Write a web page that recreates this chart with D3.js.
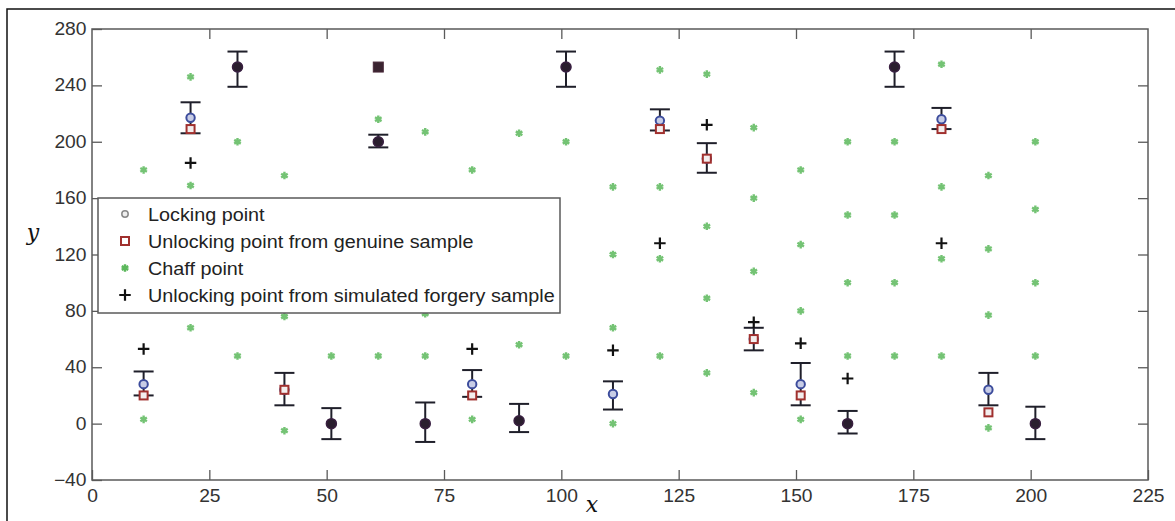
<!DOCTYPE html>
<html><head><meta charset="utf-8">
<script src="https://cdn.jsdelivr.net/npm/d3@7"></script>
<style>
html,body{margin:0;padding:0;background:#fff;}
svg{display:block;}
</style></head>
<body>
<svg id="chart" width="1175" height="521"></svg>
<script>
// ---- data ----
const xTicks = [0,25,50,75,100,125,150,175,200,225];
const yTicks = [-40,0,40,80,120,160,200,240,280];

const lockX   = [11,21,31,41,51,61,71,81,91,101,111,121,131,141,151,161,171,181,191,201];
const lockY   = [28,217,253,24,0,200,0,28,2,253,21,215,188,60,28,0,253,216,24,0];
const errLow  = [20,206,239,13,-11,196,-13,19,-6,239,10,208,178,52,13,-7,239,209,13,-11];
const errHigh = [37,228,264,36,11,205,15,38,14,264,30,223,199,68,43,9,264,224,36,12];

const genuineX = [11,21,41,81,121,131,141,151,181,191];
const genuineY = [20,209,24,20,209,188,60,20,209,8];

// genuine unlocking points coinciding with locking points (drawn as dark overlap)
const overlapX = [31,51,61,71,91,101,161,171,201];
const overlapY = [253,0,200,0,2,253,0,253,0];
// genuine unlocking point landing on a chaff point
const genuineChaffX = [61];
const genuineChaffY = [253];

const chaffX = [11,11, 21,21,21, 31,31, 41,41,41, 51, 61,61, 71,71,71, 81,81, 91,91, 101,101,
  111,111,111,111, 121,121,121,121, 131,131,131,131, 141,141,141,141, 151,151,151,151,
  161,161,161,161, 171,171,171,171, 181,181,181,181, 191,191,191,191, 201,201,201,201];
const chaffY = [180,3, 246,169,68, 200,48, 176,-5,76, 48, 216,48, 207,48,78, 180,3, 206,56, 200,48,
  168,120,68,0, 251,168,117,48, 248,140,89,36, 210,160,108,22, 180,127,80,3,
  200,148,100,48, 200,148,100,48, 255,168,117,48, 176,124,77,-3, 200,152,100,48];

const forgX = [11,21,81,111,121,131,141,151,161,181];
const forgY = [53,185,53,52,128,212,72,57,32,128];

const legendLabels = ["Locking point","Unlocking point from genuine sample","Chaff point","Unlocking point from simulated forgery sample"];

// ---- layout ----
const svg = d3.select("#chart");
const L = 92, R = 1148, T = 29, B = 480;
const x = d3.scaleLinear().domain([0,225]).range([L,R]);
const y = d3.scaleLinear().domain([-40,280]).range([B,T]);

const frameCol = "#5a5a5a";
const textCol = "#333";
const font = "'Liberation Sans', Arial, sans-serif";

// outer frame
svg.append("rect").attr("x",7).attr("y",9).attr("width",1300).attr("height",700)
  .attr("fill","none").attr("stroke","#111").attr("stroke-width",1.5);

// axes
function styleAxis(g){
  g.select(".domain").remove();
  g.selectAll("line").attr("stroke",frameCol).attr("stroke-width",1.3);
  g.selectAll("text").attr("fill",textCol).attr("font-family",font).attr("font-size",17.5);
}
const xAxisB = d3.axisBottom(x).tickValues(xTicks).tickSizeInner(-10).tickSizeOuter(0).tickPadding(10);
svg.append("g").attr("transform",`translate(0,${B})`).call(xAxisB).call(styleAxis)
  .selectAll("text").attr("transform","scale(1.1,1)");
svg.append("g").attr("transform",`translate(0,${T})`)
  .call(d3.axisTop(x).tickValues(xTicks.slice(1,-1)).tickSizeInner(-10).tickSizeOuter(0).tickFormat(""))
  .call(styleAxis);
const yAxisL = d3.axisLeft(y).tickValues(yTicks).tickSizeInner(-10).tickSizeOuter(0).tickPadding(5);
svg.append("g").attr("transform",`translate(${L},0)`).call(yAxisL).call(styleAxis)
  .selectAll("text").attr("transform","scale(1.1,1)");
svg.append("g").attr("transform",`translate(${R},0)`)
  .call(d3.axisRight(y).tickValues(yTicks.slice(1,-1)).tickSizeInner(-10).tickSizeOuter(0).tickFormat(""))
  .call(styleAxis);

// plot frame
svg.append("rect").attr("x",L).attr("y",T).attr("width",R-L).attr("height",B-T)
  .attr("fill","none").attr("stroke",frameCol).attr("stroke-width",1.5);

// axis labels
svg.append("text").attr("x",33).attr("y",240).attr("text-anchor","middle")
  .attr("font-family","'DejaVu Serif', 'Liberation Serif', serif").attr("font-style","italic")
  .attr("font-size",22).attr("fill","#111").text("y");
svg.append("text").attr("x",592).attr("y",512).attr("text-anchor","middle")
  .attr("font-family","'DejaVu Serif', 'Liberation Serif', serif").attr("font-style","italic")
  .attr("font-size",22).attr("fill","#111").text("x");

const plot = svg.append("g");

// chaff asterisks
const chaffCol = "#5cb85c";
const ast = d3.symbol().type(d3.symbolAsterisk).size(40);
plot.selectAll(".chaff").data(chaffX.map((v,i)=>[v,chaffY[i]])).join("path")
  .attr("transform",d=>`translate(${x(d[0])},${y(d[1])})`)
  .attr("d",ast).attr("fill","none").attr("stroke",chaffCol).attr("stroke-width",2.4).attr("opacity",0.85);

// error bars
const ebCol = "#1f1f2a";
const cap = 10;
const eb = plot.selectAll(".eb").data(lockX.map((v,i)=>({x:v,lo:errLow[i],hi:errHigh[i]}))).join("g");
eb.append("line").attr("x1",d=>x(d.x)).attr("x2",d=>x(d.x)).attr("y1",d=>y(d.lo)).attr("y2",d=>y(d.hi))
  .attr("stroke",ebCol).attr("stroke-width",2);
eb.append("line").attr("x1",d=>x(d.x)-cap).attr("x2",d=>x(d.x)+cap).attr("y1",d=>y(d.lo)).attr("y2",d=>y(d.lo))
  .attr("stroke",ebCol).attr("stroke-width",2);
eb.append("line").attr("x1",d=>x(d.x)-cap).attr("x2",d=>x(d.x)+cap).attr("y1",d=>y(d.hi)).attr("y2",d=>y(d.hi))
  .attr("stroke",ebCol).attr("stroke-width",2);

// locking points
plot.selectAll(".lock").data(lockX.map((v,i)=>[v,lockY[i]])).join("circle")
  .attr("cx",d=>x(d[0])).attr("cy",d=>y(d[1])).attr("r",4.2)
  .attr("fill","#c8cde6").attr("stroke","#3c4c9c").attr("stroke-width",2);

// genuine unlocking squares
const sq = 8;
plot.selectAll(".gen").data(genuineX.map((v,i)=>[v,genuineY[i]])).join("rect")
  .attr("x",d=>x(d[0])-sq/2).attr("y",d=>y(d[1])-sq/2).attr("width",sq).attr("height",sq)
  .attr("fill","#f3eeee").attr("stroke","#a0302e").attr("stroke-width",2);

// overlap (genuine == locking)
plot.selectAll(".ov").data(overlapX.map((v,i)=>[v,overlapY[i]])).join("circle")
  .attr("cx",d=>x(d[0])).attr("cy",d=>y(d[1])).attr("r",5)
  .attr("fill","#2a1e2e").attr("stroke","#3a2040").attr("stroke-width",1.5);
plot.selectAll(".gc").data(genuineChaffX.map((v,i)=>[v,genuineChaffY[i]])).join("rect")
  .attr("x",d=>x(d[0])-5).attr("y",d=>y(d[1])-5).attr("width",10).attr("height",10)
  .attr("fill","#3a2430").attr("stroke","#4a2a3a").attr("stroke-width",1);

// forgery plus
const plus = d3.symbol().type(d3.symbolPlus).size(45);
plot.selectAll(".fg").data(forgX.map((v,i)=>[v,forgY[i]])).join("path")
  .attr("transform",d=>`translate(${x(d[0])},${y(d[1])})`)
  .attr("d",plus).attr("fill","none").attr("stroke","#111").attr("stroke-width",2.2);

// legend
const lg = svg.append("g");
lg.append("rect").attr("x",98).attr("y",198).attr("width",462).attr("height",115)
  .attr("fill","#fff").attr("stroke",frameCol).attr("stroke-width",1.5);
const rowY = [214,241,268,295];
const mx = 125, tx = 148;
lg.append("circle").attr("cx",mx).attr("cy",rowY[0]).attr("r",3.2).attr("fill","#eee").attr("stroke","#888").attr("stroke-width",1.5);
lg.append("rect").attr("x",mx-4).attr("y",rowY[1]-4).attr("width",8).attr("height",8).attr("fill","#fff").attr("stroke","#a0302e").attr("stroke-width",2);
lg.append("path").attr("transform",`translate(${mx},${rowY[2]})`).attr("d",ast).attr("fill","none").attr("stroke",chaffCol).attr("stroke-width",2.4);
lg.append("path").attr("transform",`translate(${mx},${rowY[3]})`).attr("d",plus).attr("fill","none").attr("stroke","#111").attr("stroke-width",2.2);
legendLabels.forEach((t,i)=>{
  lg.append("text").attr("transform",`translate(${tx},${rowY[i]+6.5}) scale(1.07,1)`)
    .attr("font-family",font).attr("font-size",18.5).attr("fill","#222").text(t);
});
</script>
</body></html>
